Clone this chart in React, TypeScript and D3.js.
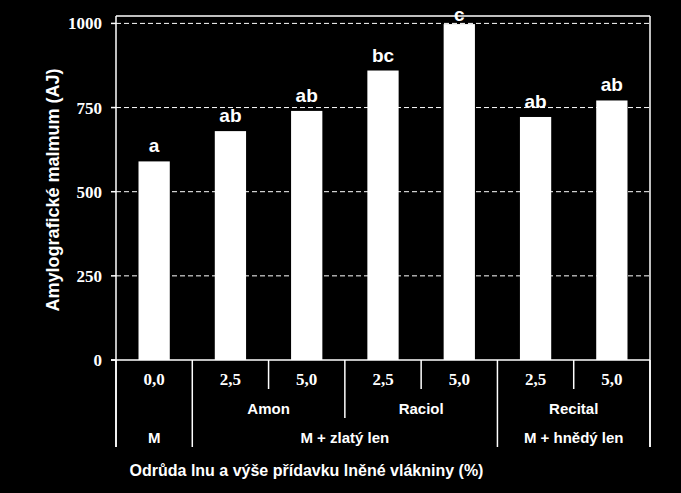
import React from "react";
import * as d3 from "d3";

const doses = ["0,0", "2,5", "5,0", "2,5", "5,0", "2,5", "5,0"];
const varieties = ["", "Amon", "Amon", "Raciol", "Raciol", "Recital", "Recital"];
const groups = ["M", "M + zlatý len", "M + zlatý len", "M + zlatý len", "M + zlatý len", "M + hnědý len", "M + hnědý len"];
const values = [590, 680, 740, 860, 998, 722, 771];
const letters = ["a", "ab", "ab", "bc", "c", "ab", "ab"];
const yTicks = [0, 250, 500, 750, 1000];
const yTitle = "Amylografické malmum (AJ)";
const xTitle = "Odrůda lnu a výše přídavku lněné vlákniny (%)";

const W = 681, H = 493;
const L = 116, R = 650, T = 16, B = 360;
const ROW1 = 389, ROW2 = 418, ROW3 = 447;
const SANS = "'Liberation Sans', Arial, sans-serif";
const SERIF = "'Liberation Serif', 'Times New Roman', serif";

function spans(labels: string[]) {
  const out: { label: string; start: number; end: number }[] = [];
  labels.forEach((lab, i) => {
    const last = out[out.length - 1];
    if (last && last.label === lab && groups[i] === groups[last.start]) last.end = i;
    else out.push({ label: lab, start: i, end: i });
  });
  return out;
}

export default function App() {
  const idx = doses.map((_, i) => i);
  const x = d3.scaleBand<number>().domain(idx).range([L, R]).paddingInner(0.59).paddingOuter(0.295);
  const step = (R - L) / doses.length;
  const y = d3.scaleLinear().domain([0, 1000]).range([B, 23.4]);
  const bx = (i: number) => L + i * step;

  const boundaries = d3.range(doses.length + 1).map((i) => {
    let bottom = ROW1;
    if (i === 0 || i === doses.length || groups[i] !== groups[i - 1]) bottom = ROW3;
    else if (varieties[i] !== varieties[i - 1]) bottom = ROW2;
    return { x: bx(i), bottom };
  });

  return (
    <svg width={W} height={H} style={{ position: "absolute", left: 0, top: 0, display: "block", background: "#000" }}>
      <rect x={0} y={0} width={W} height={H} fill="#000" />
      {/* gridlines */}
      {yTicks.filter((t) => t > 0).map((t) => (
        <line key={"g" + t} x1={L} x2={R} y1={y(t)} y2={y(t)} stroke="#fff" strokeWidth={1} strokeDasharray="5,3" />
      ))}
      {/* bars */}
      {values.map((v, i) => (
        <rect key={"b" + i} x={x(i)} y={y(v)} width={x.bandwidth()} height={y(0) - y(v)} fill="#fff" />
      ))}
      {/* letters */}
      {values.map((v, i) => (
        <text key={"l" + i} x={(x(i) as number) + x.bandwidth() / 2} y={Math.max(y(v) - 9, 21)} textAnchor="middle"
          fill="#fff" fontFamily={SANS} fontWeight="bold" fontSize={19}>{letters[i]}</text>
      ))}
      {/* frame */}
      <line x1={L} x2={R} y1={T} y2={T} stroke="#fff" strokeWidth={1.5} />
      <line x1={R} x2={R} y1={T} y2={ROW3} stroke="#fff" strokeWidth={1.5} />
      <line x1={L} x2={L} y1={T} y2={ROW3} stroke="#fff" strokeWidth={1.5} />
      <line x1={L - 5} x2={R} y1={B} y2={B} stroke="#fff" strokeWidth={1.5} />
      {/* y ticks */}
      {yTicks.map((t) => (
        <g key={"t" + t}>
          <line x1={L - 5} x2={L} y1={y(t)} y2={y(t)} stroke="#fff" strokeWidth={1.5} />
          <text x={102} y={y(t) + 6} textAnchor="end" fill="#fff" fontFamily={SERIF} fontWeight="bold" fontSize={17}>{t}</text>
        </g>
      ))}
      {/* y title */}
      <text transform={`translate(59,190) rotate(-90)`} textAnchor="middle" fill="#fff" fontFamily={SANS} fontWeight="bold" fontSize={18}>{yTitle}</text>
      {/* category table */}
      {boundaries.map((b, i) => (
        <line key={"s" + i} x1={b.x} x2={b.x} y1={B} y2={b.bottom} stroke="#fff" strokeWidth={1.5} />
      ))}
      {doses.map((d, i) => (
        <text key={"d" + i} x={bx(i) + step / 2} y={385} textAnchor="middle" fill="#fff" fontFamily={SERIF} fontWeight="bold" fontSize={17}>{d}</text>
      ))}
      {spans(varieties).map((s, i) => (
        <text key={"v" + i} x={(bx(s.start) + bx(s.end + 1)) / 2} y={414} textAnchor="middle" fill="#fff" fontFamily={SANS} fontWeight="bold" fontSize={15}>{s.label}</text>
      ))}
      {spans(groups).map((s, i) => (
        <text key={"gr" + i} x={(bx(s.start) + bx(s.end + 1)) / 2} y={443} textAnchor="middle" fill="#fff" fontFamily={SANS} fontWeight="bold" fontSize={15}>{s.label}</text>
      ))}
      <text x={306.5} y={476} textAnchor="middle" fill="#fff" fontFamily={SANS} fontWeight="bold" fontSize={16}>{xTitle}</text>
    </svg>
  );
}
